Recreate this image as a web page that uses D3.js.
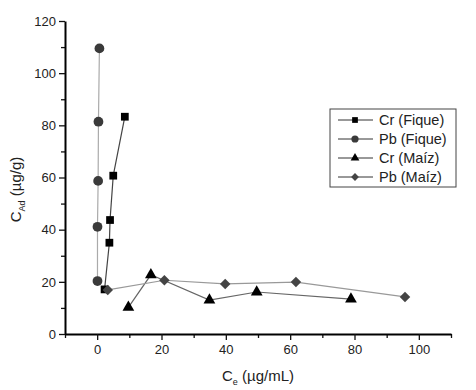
<!DOCTYPE html>
<html>
<head>
<meta charset="utf-8">
<script src="https://cdn.jsdelivr.net/npm/d3@7"></script>
<style>
  body { margin: 0; background: #fff; }
  text { font-family: "Liberation Sans", Arial, sans-serif; fill: #222; }
</style>
</head>
<body>
<div id="chart"></div>
<script>
// data
let crFiqueCe = [2.3, 3.8, 4.0, 5.0, 8.6];
let crFiqueCad = [17.1, 35.0, 43.7, 60.7, 83.3];
let pbFiqueCe = [0.1, 0.1, 0.3, 0.4, 0.7];
let pbFiqueCad = [20.3, 41.1, 58.7, 81.4, 109.5];
let crMaizCe = [9.7, 16.7, 34.9, 49.6, 78.9];
let crMaizCad = [10.2, 22.7, 13.0, 16.1, 13.4];
let pbMaizCe = [3.3, 20.9, 39.8, 61.8, 95.7];
let pbMaizCad = [16.9, 20.6, 19.2, 19.9, 14.2];

let xTicks = [0, 20, 40, 60, 80, 100];
let yTicks = [0, 20, 40, 60, 80, 100, 120];

let seriesNames = ["Cr (Fique)", "Pb (Fique)", "Cr (Maíz)", "Pb (Maíz)"];

// set margins, width, height
let margin = {top: 21, right: 25, bottom: 56, left: 65};
let width = 476 - margin.left - margin.right;
let height = 390 - margin.top - margin.bottom;

let svg = d3.select("#chart").append("svg")
    .attr("width", 476)
    .attr("height", 390)
  .append("g")
    .attr("transform", "translate(" + margin.left + "," + margin.top + ")");

let x = d3.scaleLinear().domain([-10, 110]).range([0, width]);
let y = d3.scaleLinear().domain([0, 120]).range([height, 0]);

// series styles (diamond = square turned 45 degrees)
let series = [
  {name: seriesNames[0], ce: crFiqueCe, cad: crFiqueCad, sym: d3.symbolSquare, rot: 0, size: 60, fill: "#000", line: "#444"},
  {name: seriesNames[1], ce: pbFiqueCe, cad: pbFiqueCad, sym: d3.symbolCircle, rot: 0, size: 75, fill: "#3a3a3a", line: "#aaa"},
  {name: seriesNames[2], ce: crMaizCe, cad: crMaizCad, sym: d3.symbolTriangle, rot: 0, size: 60, fill: "#000", line: "#666"},
  {name: seriesNames[3], ce: pbMaizCe, cad: pbMaizCad, sym: d3.symbolSquare, rot: 45, size: 55, fill: "#444", line: "#999"}
];

// minor ticks
svg.append("g")
    .attr("transform", `translate(0,${height})`)
    .call(d3.axisBottom(x).tickValues(d3.range(-10, 111, 20)).tickSize(4).tickFormat(""))
    .call(g => g.select(".domain").remove());
svg.append("g")
    .call(d3.axisLeft(y).tickValues(d3.range(10, 120, 20)).tickSize(4).tickFormat(""))
    .call(g => g.select(".domain").remove());

// main axes
let xAxis = svg.append("g")
    .attr("transform", `translate(0,${height})`)
    .call(d3.axisBottom(x).tickValues(xTicks).tickSize(6).tickSizeOuter(0).tickPadding(5));
let yAxis = svg.append("g")
    .call(d3.axisLeft(y).tickValues(yTicks).tickSize(6).tickSizeOuter(0).tickPadding(3));

[xAxis, yAxis].forEach(a => {
  a.selectAll("text").style("font-size", "13px").attr("fill", "#222");
  a.select(".domain").attr("stroke-width", 2);
});
svg.selectAll(".tick line").attr("stroke-width", 1.3).attr("stroke", "#111");

// lines and symbols
let line = d3.line()
    .x(d => x(d[0]))
    .y(d => y(d[1]));

series.forEach(s => {
  let pts = s.ce.map((c, i) => [c, s.cad[i]]);
  svg.append("path")
      .datum(pts)
      .attr("d", line)
      .attr("fill", "none")
      .attr("stroke", s.line)
      .attr("stroke-width", 1.2);
  svg.selectAll(null)
      .data(pts)
      .enter().append("path")
      .attr("transform", d => `translate(${x(d[0])},${y(d[1])}) rotate(${s.rot})`)
      .attr("d", d3.symbol().type(s.sym).size(s.size))
      .attr("fill", s.fill);
});

// legend
let legend = svg.append("g").attr("transform", `translate(${330 - margin.left},${109 - margin.top})`);
legend.append("rect")
    .attr("width", 126).attr("height", 78)
    .attr("fill", "#fff").attr("stroke", "#444").attr("stroke-width", 1);
series.forEach((s, i) => {
  let g = legend.append("g").attr("transform", `translate(0,${11 + i * 19})`);
  g.append("line").attr("x1", 8).attr("x2", 43).attr("stroke", "#333").attr("stroke-width", 1);
  g.append("path").attr("transform", `translate(25,0) rotate(${s.rot})`)
      .attr("d", d3.symbol().type(s.sym).size(s.size * 0.55))
      .attr("fill", s.fill);
  g.append("text").attr("x", 49).attr("dy", "0.35em")
      .style("font-size", "14.5px").text(s.name);
});

// axis titles
let xt = svg.append("text")
    .attr("x", width / 2).attr("y", height + 47)
    .attr("text-anchor", "middle").style("font-size", "15px");
xt.append("tspan").text("C");
xt.append("tspan").attr("dy", 4).style("font-size", "9px").text("e");
xt.append("tspan").attr("dy", -4).text(" (µg/mL)");

let yt = svg.append("text")
    .attr("transform", `translate(${-44},${height / 2 + 12}) rotate(-90)`)
    .attr("text-anchor", "middle").style("font-size", "15px");
yt.append("tspan").text("C");
yt.append("tspan").attr("dy", 4).style("font-size", "9px").text("Ad");
yt.append("tspan").attr("dy", -4).text(" (µg/g)");
</script>
</body>
</html>
